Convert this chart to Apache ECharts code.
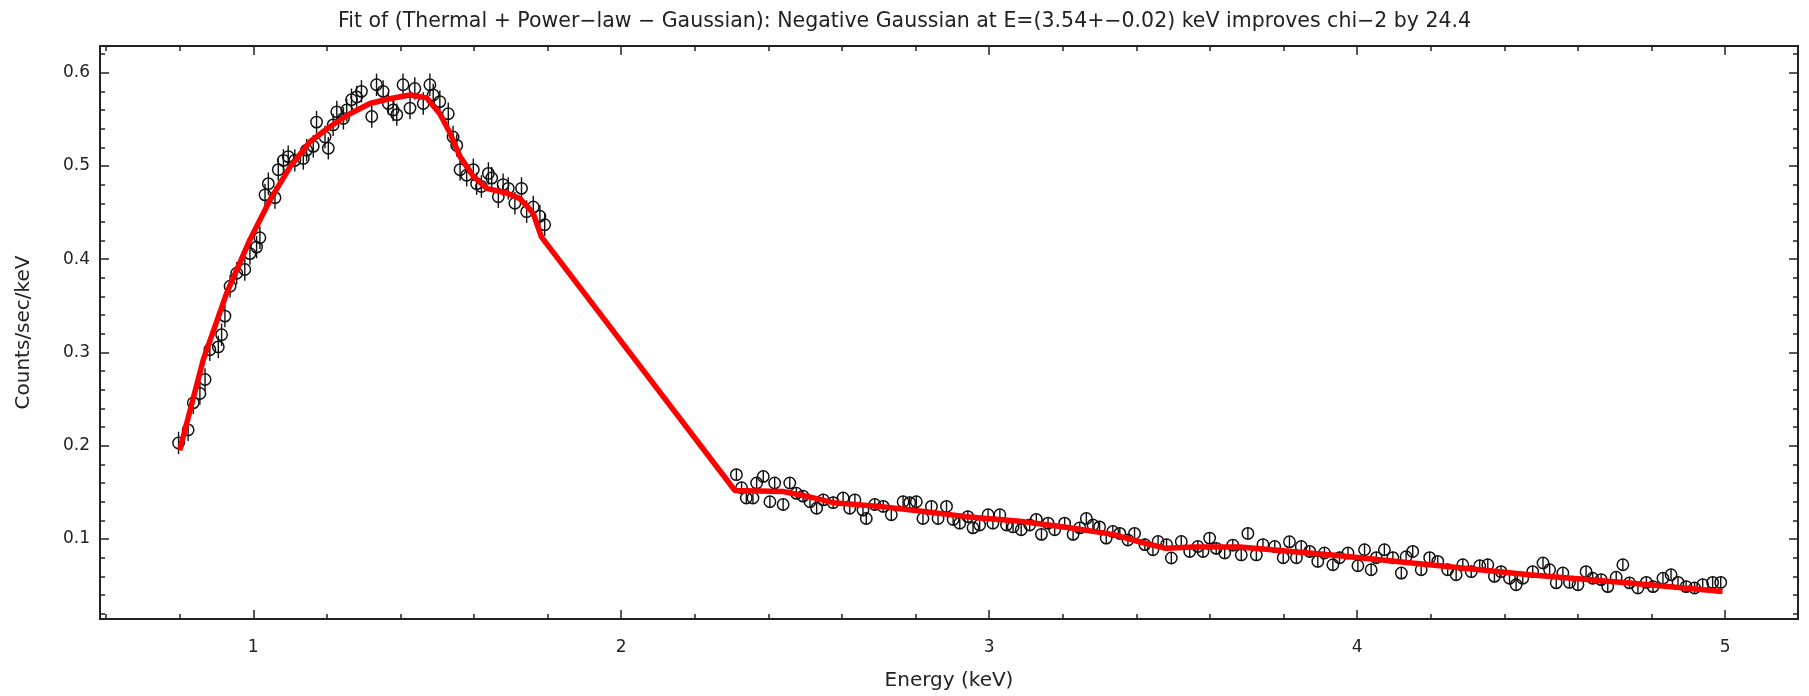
<!DOCTYPE html>
<html>
<head>
<meta charset="utf-8">
<script src="https://cdn.jsdelivr.net/npm/echarts@6/dist/echarts.min.js"></script>
<style>
  html, body { margin: 0; padding: 0; background: #fff; }
  #main { width: 1809px; height: 696px; }
</style>
</head>
<body>
<div id="main"></div>
<script>
// data points below 2 keV (energy, counts/sec/keV)
var energyLow = [0.797, 0.823, 0.837, 0.855, 0.869, 0.882, 0.905, 0.914, 0.923, 0.937,
  0.955, 0.977, 0.991, 1.009, 1.018, 1.032, 1.041, 1.059, 1.068, 1.082,
  1.095, 1.113, 1.136, 1.145, 1.163, 1.172, 1.195, 1.204, 1.217, 1.227,
  1.245, 1.254, 1.267, 1.281, 1.294, 1.322, 1.335, 1.353, 1.367, 1.380,
  1.390, 1.407, 1.426, 1.439, 1.462, 1.480, 1.489, 1.507, 1.530, 1.543,
  1.553, 1.562, 1.580, 1.598, 1.607, 1.620, 1.639, 1.648, 1.666, 1.679,
  1.693, 1.711, 1.729, 1.743, 1.761, 1.779, 1.792];
var countsLow = [0.203, 0.217, 0.246, 0.256, 0.271, 0.303, 0.306, 0.319, 0.339, 0.371,
  0.385, 0.389, 0.406, 0.413, 0.423, 0.469, 0.481, 0.466, 0.496, 0.506,
  0.510, 0.506, 0.508, 0.517, 0.521, 0.547, 0.531, 0.519, 0.544, 0.558,
  0.551, 0.560, 0.571, 0.574, 0.580, 0.553, 0.587, 0.580, 0.567, 0.560,
  0.555, 0.587, 0.562, 0.583, 0.567, 0.587, 0.576, 0.569, 0.556, 0.531,
  0.522, 0.496, 0.490, 0.496, 0.481, 0.478, 0.492, 0.487, 0.467, 0.480,
  0.476, 0.460, 0.476, 0.451, 0.456, 0.446, 0.437];

// data points above 2.3 keV
var energyHigh = [2.313, 2.327, 2.340, 2.358, 2.368, 2.386, 2.404, 2.417, 2.440, 2.458,
  2.476, 2.494, 2.513, 2.531, 2.549, 2.576, 2.603, 2.621, 2.635, 2.657,
  2.666, 2.689, 2.712, 2.734, 2.766, 2.784, 2.802, 2.820, 2.843, 2.861,
  2.884, 2.902, 2.920, 2.942, 2.956, 2.974, 2.997, 3.010, 3.029, 3.047,
  3.065, 3.087, 3.110, 3.128, 3.142, 3.160, 3.178, 3.205, 3.228, 3.246,
  3.264, 3.282, 3.300, 3.318, 3.336, 3.355, 3.377, 3.395, 3.423, 3.445,
  3.459, 3.482, 3.495, 3.522, 3.545, 3.567, 3.581, 3.599, 3.617, 3.640,
  3.662, 3.685, 3.703, 3.726, 3.744, 3.776, 3.799, 3.816, 3.835, 3.848,
  3.871, 3.893, 3.911, 3.934, 3.952, 3.975, 4.002, 4.020, 4.038, 4.052,
  4.074, 4.097, 4.120, 4.133, 4.151, 4.174, 4.197, 4.219, 4.246, 4.269,
  4.287, 4.310, 4.333, 4.355, 4.373, 4.391, 4.414, 4.432, 4.450, 4.477,
  4.505, 4.523, 4.541, 4.559, 4.577, 4.600, 4.622, 4.640, 4.663, 4.681,
  4.704, 4.722, 4.740, 4.763, 4.786, 4.804, 4.831, 4.853, 4.872, 4.894,
  4.917, 4.939, 4.966, 4.988];
var countsHigh = [0.169, 0.155, 0.144, 0.144, 0.160, 0.167, 0.140, 0.160, 0.137, 0.160,
  0.149, 0.146, 0.140, 0.133, 0.142, 0.139, 0.144, 0.133, 0.142, 0.131,
  0.122, 0.137, 0.135, 0.126, 0.140, 0.139, 0.140, 0.122, 0.135, 0.122,
  0.135, 0.121, 0.117, 0.124, 0.112, 0.115, 0.126, 0.117, 0.126, 0.115,
  0.113, 0.110, 0.115, 0.121, 0.105, 0.117, 0.110, 0.117, 0.105, 0.112,
  0.122, 0.115, 0.113, 0.101, 0.108, 0.106, 0.099, 0.106, 0.094, 0.0885,
  0.0974, 0.094, 0.0796, 0.0974, 0.0867, 0.092, 0.0867, 0.101, 0.090, 0.085,
  0.0935, 0.083, 0.106, 0.083, 0.094, 0.092, 0.080, 0.097, 0.080, 0.092,
  0.0867, 0.076, 0.085, 0.0724, 0.080, 0.085, 0.0714, 0.0885, 0.067, 0.080,
  0.0885, 0.080, 0.0635, 0.081, 0.0867, 0.067, 0.080, 0.076, 0.067, 0.0617,
  0.0724, 0.065, 0.0714, 0.0724, 0.060, 0.065, 0.058, 0.051, 0.058, 0.065,
  0.0743, 0.067, 0.053, 0.0635, 0.0535, 0.051, 0.065, 0.058, 0.0565, 0.049,
  0.059, 0.0724, 0.053, 0.0475, 0.0535, 0.049, 0.058, 0.0617, 0.0535, 0.049,
  0.0475, 0.051, 0.0535, 0.0535];

// error bar half-heights
var errLow = 0.012;
var errHigh = 0.0065;

// fitted model (thermal + power-law - gaussian)
var modelEnergy = [0.80, 0.864, 0.928, 0.991, 1.045, 1.10, 1.154, 1.208, 1.263, 1.317,
  1.37, 1.426, 1.471, 1.507, 1.535, 1.562, 1.598, 1.634, 1.688, 1.725,
  1.761, 1.783, 2.309, 2.44, 2.503, 2.576, 2.702, 2.811, 2.938, 3.083,
  3.219, 3.336, 3.418, 3.481, 3.554, 3.681, 3.925, 4.197, 4.468, 4.74, 4.993];
var modelCounts = [0.195, 0.292, 0.364, 0.421, 0.463, 0.499, 0.526, 0.542, 0.556, 0.567,
  0.572, 0.576, 0.573, 0.556, 0.535, 0.510, 0.489, 0.476, 0.471, 0.465,
  0.449, 0.424, 0.152, 0.151, 0.146, 0.139, 0.135, 0.130, 0.124, 0.119,
  0.112, 0.105, 0.096, 0.090, 0.0914, 0.0914, 0.0832, 0.0724, 0.0617, 0.0528, 0.0438];

var xTicks = [1, 2, 3, 4, 5];
var yTicks = [0.1, 0.2, 0.3, 0.4, 0.5, 0.6];

var X_MIN = 0.5835, X_MAX = 5.198;
var Y_MIN = 0.01425, Y_MAX = 0.6286;

// minor ticks: 0.2 keV and 0.02 counts
var xMinor = [];
for (var i = 3; i <= 24; i++) { if (i % 5 !== 0) xMinor.push(+(i * 0.2).toFixed(2)); }
var yMinor = [];
for (var j = 1; j <= 31; j++) { if (j % 5 !== 0) yMinor.push(+(j * 0.02).toFixed(2)); }

var points = [];
energyLow.forEach(function (e, k) { points.push([e, countsLow[k], errLow]); });
energyHigh.forEach(function (e, k) { points.push([e, countsHigh[k], errHigh]); });

var model = modelEnergy.map(function (e, k) { return [e, modelCounts[k]]; });

var FONT = 'DejaVu Sans';
var INK = '#222';

function axis(kind, pos, ticks, len, labels, extra) {
  var a = {
    type: 'value',
    position: pos,
    min: kind === 'x' ? X_MIN : Y_MIN,
    max: kind === 'x' ? X_MAX : Y_MAX,
    axisLine: { show: true, onZero: false, lineStyle: { color: INK, width: 2 } },
    axisTick: { show: true, inside: true, length: len, customValues: ticks, lineStyle: { color: INK, width: 1.5 } },
    axisLabel: labels ? {
      show: true, customValues: ticks, color: INK, fontFamily: FONT, fontSize: 17,
      margin: kind === 'x' ? 20 : 10
    } : { show: false },
    splitLine: { show: false }
  };
  return Object.assign(a, extra || {});
}

var myChart = echarts.init(document.getElementById('main'));
myChart.setOption({
  animation: false,
  backgroundColor: '#fff',
  title: {
    text: 'Fit of (Thermal + Power\u2212law \u2212 Gaussian): Negative Gaussian at E=(3.54+\u22120.02) keV improves chi\u22122 by 24.4',
    left: 'center',
    top: 6,
    textStyle: { fontFamily: FONT, fontSize: 20.5, fontWeight: 'normal', color: INK }
  },
  grid: { left: 100, right: 11, top: 46, bottom: 77 },
  xAxis: [
    axis('x', 'bottom', xTicks, 9, true, {
      name: 'Energy (keV)', nameLocation: 'middle', nameGap: 52,
      nameTextStyle: { fontFamily: FONT, fontSize: 20, color: INK }
    }),
    axis('x', 'bottom', xMinor, 5, false),
    axis('x', 'top', xTicks, 9, false),
    axis('x', 'top', xMinor, 5, false)
  ],
  yAxis: [
    axis('y', 'left', yTicks, 9, true, {
      name: 'Counts/sec/keV', nameLocation: 'middle', nameGap: 66,
      nameTextStyle: { fontFamily: FONT, fontSize: 20, color: INK }
    }),
    axis('y', 'left', yMinor, 5, false),
    axis('y', 'right', yTicks, 9, false),
    axis('y', 'right', yMinor, 5, false)
  ],
  series: [
    {
      type: 'custom',
      xAxisIndex: 0,
      yAxisIndex: 0,
      data: points,
      encode: { x: 0, y: 1 },
      z: 2,
      renderItem: function (params, api) {
        var e = api.value(0), c = api.value(1), d = api.value(2);
        var p = api.coord([e, c]);
        var hi = api.coord([e, c + d]);
        var lo = api.coord([e, c - d]);
        return {
          type: 'group',
          children: [
            { type: 'line', shape: { x1: p[0], y1: hi[1], x2: p[0], y2: lo[1] },
              style: { stroke: '#111', lineWidth: 1.4 } },
            { type: 'circle', shape: { cx: p[0], cy: p[1], r: 5.7 },
              style: { fill: 'none', stroke: '#111', lineWidth: 1.5 } }
          ]
        };
      }
    },
    {
      type: 'line',
      xAxisIndex: 0,
      yAxisIndex: 0,
      data: model,
      showSymbol: false,
      symbol: 'none',
      z: 3,
      lineStyle: { color: '#ff0000', width: 5.5 }
    }
  ]
});
</script>
</body>
</html>
